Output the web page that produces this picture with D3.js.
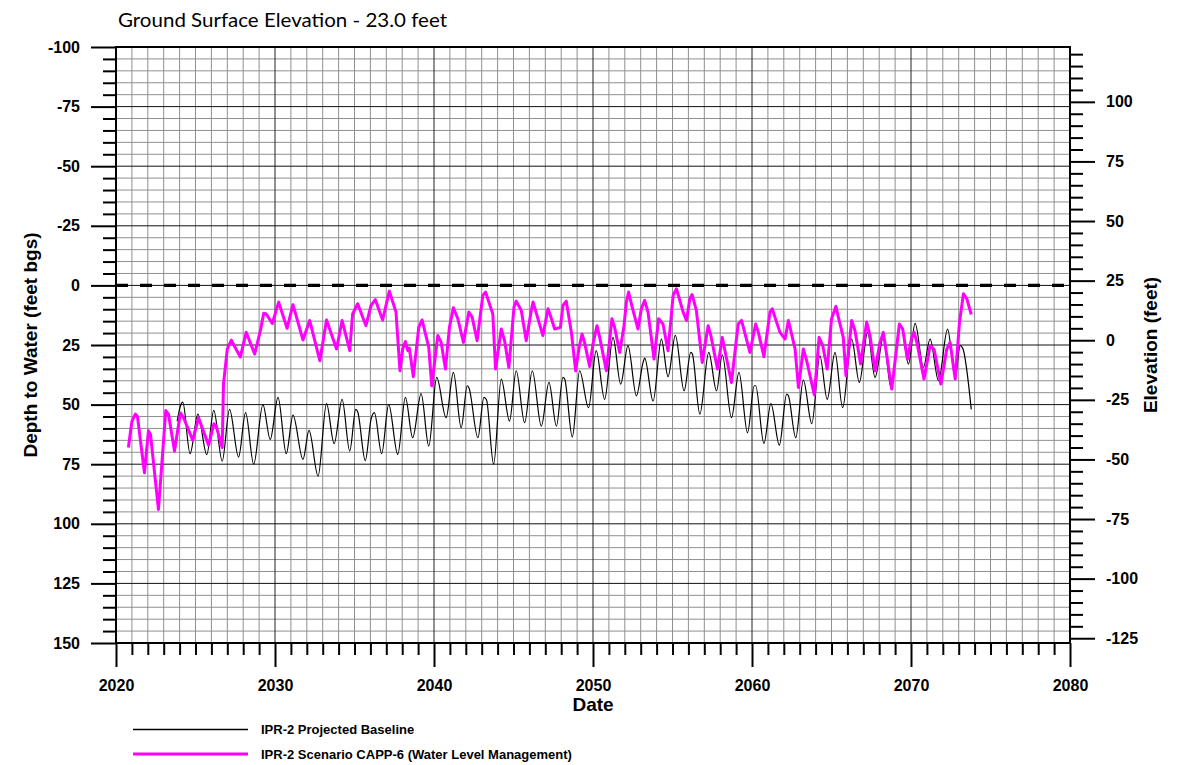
<!DOCTYPE html>
<html>
<head>
<meta charset="utf-8">
<script src="https://cdn.jsdelivr.net/npm/d3@7"></script>
<style>
  html, body { margin: 0; padding: 0; background: #fff; }
  svg { display: block; }
</style>
</head>
<body>
<svg id="chart" width="1181" height="765"></svg>
<script>
// ---------------- DATA ----------------
const titleText = "Ground Surface Elevation - 23.0 feet";
const groundElevation = 23.0;
const xMajorTicks = [2020, 2030, 2040, 2050, 2060, 2070, 2080];
const depthMajorTicks = [-100, -75, -50, -25, 0, 25, 50, 75, 100, 125, 150];
const elevMajorTicks = [100, 75, 50, 25, 0, -25, -50, -75, -100, -125];
const seriesNames = ["IPR-2 Projected Baseline", "IPR-2 Scenario CAPP-6 (Water Level Management)"];

const baselineYears = [
  2023.85, 2024.05, 2024.2, 2024.66, 2025.15, 2025.71, 2026.15, 2026.68, 2027.14, 2027.71,
  2028.15, 2028.66, 2029.24, 2029.7, 2030.19, 2030.71, 2031.13, 2031.76, 2032.14, 2032.71,
  2033.24, 2033.72, 2034.22, 2034.7, 2035.08, 2035.2, 2035.68, 2036.04, 2036.25, 2036.71,
  2037.15, 2037.72, 2038.2, 2038.66, 2039.19, 2039.67, 2040.17, 2040.76, 2041.22, 2041.71,
  2042.09, 2042.2, 2042.76, 2043.14, 2043.3, 2043.75, 2044.23, 2044.75, 2045.17, 2045.7,
  2046.18, 2046.75, 2047.23, 2047.7, 2048.11, 2048.22, 2048.7, 2049.16, 2049.72, 2050.2,
  2050.73, 2051.26, 2051.74, 2052.2, 2052.73, 2053.15, 2053.25, 2053.78, 2054.3, 2054.72,
  2055.18, 2055.73, 2056.15, 2056.25, 2056.72, 2057.28, 2057.77, 2058.13, 2058.71, 2059.18,
  2059.72, 2060.14, 2060.23, 2060.75, 2061.19, 2061.72, 2062.18, 2062.29, 2062.75, 2063.23,
  2063.76, 2064.27, 2064.73, 2065.22, 2065.7, 2066.27, 2066.75, 2067.27, 2067.74, 2068.26,
  2068.74, 2069.31, 2069.45, 2069.84, 2070.26, 2070.78, 2071.2, 2071.73, 2072.3, 2072.78,
  2073.09, 2073.25, 2073.79
];
const baselineDepth = [
  57, 50.6, 49, 70.6, 54, 71, 52.4, 73.7, 52, 72,
  53.4, 75, 50, 64.6, 47, 70.6, 54.4, 73, 60.8, 80,
  49.6, 66.4, 47.8, 69.5, 52, 53, 73.5, 56.2, 53.4, 70.6,
  49.9, 70.9, 47, 63.9, 45.4, 67.4, 38.6, 55.5, 36.5, 59.7,
  42.1, 43, 63.9, 47, 48, 75, 39.3, 56.9, 35.8, 57.6,
  35.8, 59, 40.7, 59, 38.6, 39.3, 63.6, 35.8, 51.3, 27.4,
  47.8, 21.8, 41.4, 25.3, 46.3, 32.3, 30.5, 48.5, 22.5, 38.3,
  21, 44.2, 28.1, 28.8, 54, 28.1, 44.2, 29.1, 55.5, 36.5,
  61.8, 42.1, 42.1, 66.3, 49.6, 67, 45.6, 46.3, 63.9, 39.7,
  58, 29.5, 47.8, 28.1, 51.3, 22.5, 40.7, 19.7, 38.6, 21.8,
  42.8, 16.2, 18.3, 33, 15.9, 34.4, 22.5, 40, 18.3, 38.6,
  25.3, 26.3, 52
];

const scenarioYears = [
  2020.78, 2021.0, 2021.22, 2021.35, 2021.79, 2022.04, 2022.17, 2022.67, 2023.13, 2023.3,
  2023.68, 2024.05, 2024.25, 2024.83, 2025.19, 2025.82, 2026.16, 2026.3, 2026.68, 2026.76,
  2027.0, 2027.25, 2027.82, 2028.19, 2028.72, 2029.08, 2029.29, 2029.45, 2029.83, 2030.23,
  2030.76, 2031.13, 2031.76, 2032.18, 2032.82, 2033.24, 2033.87, 2034.22, 2034.7, 2034.88,
  2035.2, 2035.72, 2036.04, 2036.31, 2036.77, 2037.19, 2037.61, 2037.86, 2038.03, 2038.2,
  2038.35, 2038.45, 2038.7, 2039.04, 2039.25, 2039.67, 2039.86, 2040.24, 2040.45, 2040.72,
  2040.97, 2041.22, 2041.5, 2041.85, 2042.19, 2042.4, 2042.71, 2043.07, 2043.24, 2043.7,
  2043.87, 2044.23, 2044.44, 2044.71, 2045.03, 2045.17, 2045.49, 2045.8, 2046.12, 2046.23,
  2046.85, 2047.17, 2047.32, 2047.59, 2047.95, 2048.11, 2048.32, 2048.64, 2048.91, 2049.12,
  2049.31, 2049.47, 2049.79, 2050.0, 2050.25, 2050.42, 2050.84, 2051.19, 2051.36, 2051.68,
  2051.95, 2052.1, 2052.24, 2052.41, 2052.83, 2053.04, 2053.25, 2053.46, 2053.84, 2054.13,
  2054.4, 2054.72, 2055.04, 2055.25, 2055.67, 2055.88, 2056.09, 2056.23, 2056.5, 2056.87,
  2057.24, 2057.41, 2057.83, 2058.13, 2058.3, 2058.71, 2059.13, 2059.34, 2059.87, 2060.23,
  2060.4, 2060.75, 2061.13, 2061.27, 2061.76, 2062.08, 2062.29, 2062.71, 2062.92, 2063.23,
  2063.44, 2063.92, 2064.22, 2064.45, 2064.73, 2065.0, 2065.28, 2065.43, 2065.74, 2065.91,
  2066.27, 2066.48, 2066.83, 2067.21, 2067.42, 2067.74, 2068.05, 2068.26, 2068.79, 2069.27,
  2069.48, 2069.77, 2070.05, 2070.2, 2070.37, 2070.82, 2071.2, 2071.45, 2071.88, 2072.25,
  2072.46, 2072.78, 2073.05, 2073.3, 2073.51, 2073.79
];
const scenarioDepth = [
  68, 57, 54, 55, 78.6, 61, 62.5, 94, 52.5, 54,
  69.5, 53.5, 55.5, 65, 55.5, 67, 58, 59, 68, 41.4,
  26.7, 23, 30, 19.7, 28.8, 19, 11.7, 12, 16, 7,
  18, 8.1, 22.9, 14.7, 31.6, 14.5, 26.7, 14.7, 27.4, 12,
  7.7, 16.9, 8.4, 6, 14.5, 2.4, 11.2, 35.8, 26.7, 23.5,
  27.4, 26.3, 38.3, 17.6, 14.5, 26, 42.1, 21, 23.9, 35.1,
  17.6, 9.4, 14, 23.9, 11.2, 13.3, 23.2, 4.2, 2.8, 12,
  35.1, 18.3, 23.2, 34.4, 9.1, 6.6, 10.5, 23.2, 10.5, 7,
  21, 9.8, 12.6, 18.3, 17.6, 8.4, 6.6, 19.7, 35.8, 26.3,
  20.4, 24, 34, 24.6, 16.9, 21.8, 35.8, 14, 17.6, 28.1,
  16.9, 7, 2.8, 7.7, 18.3, 9.8, 6.3, 11.2, 30.9, 14,
  16.2, 27.4, 4.2, 1.4, 11.2, 14.7, 5.6, 3.8, 10.5, 32.3,
  16.9, 21, 35.1, 21.8, 27.4, 40.7, 16.2, 14.7, 28.1, 16.2,
  19.7, 29.9, 11.2, 9.8, 19.7, 22.5, 14.7, 26.7, 42.8, 26.7,
  31.6, 45.9, 21.8, 25.3, 35.1, 14, 8.8, 13.3, 21.8, 37.9,
  14.7, 19, 33, 15.4, 21, 35.8, 23.9, 19.7, 43.5, 16.2,
  18.3, 30.9, 21.8, 19.7, 23.9, 39.3, 25.3, 26.7, 41.4, 26.7,
  23.9, 39.3, 15.4, 3.5, 5.6, 12.2
];

// ---------------- LAYOUT ----------------
const svg = d3.select("#chart");
const L = 116, R = 1070, T = 47, B = 643;
const x = d3.scaleLinear().domain([2020, 2080]).range([L, R]);
const y = d3.scaleLinear().domain([-100, 150]).range([T, B]);
const yElev = d3.scaleLinear().domain([groundElevation + 100, groundElevation - 150]).range([T, B]);

const tickFont = "'Liberation Sans', Arial, sans-serif";

// grid
const g = svg.append("g");
const minorYears = d3.range(2021, 2080).filter(v => v % 10 !== 0);
const minorDepths = d3.range(-95, 150, 5).filter(v => v % 25 !== 0);
g.selectAll(".vmin").data(minorYears).join("line")
  .attr("x1", d => x(d)).attr("x2", d => x(d)).attr("y1", T).attr("y2", B)
  .attr("stroke", "#8f8f8f").attr("stroke-width", 1);
g.selectAll(".hmin").data(minorDepths).join("line")
  .attr("x1", L).attr("x2", R).attr("y1", d => y(d)).attr("y2", d => y(d))
  .attr("stroke", "#8f8f8f").attr("stroke-width", 1);
g.selectAll(".vmaj").data(xMajorTicks.slice(1, -1)).join("line")
  .attr("x1", d => x(d)).attr("x2", d => x(d)).attr("y1", T).attr("y2", B)
  .attr("stroke", "#222").attr("stroke-width", 1);
g.selectAll(".hmaj").data(depthMajorTicks.slice(1, -1)).join("line")
  .attr("x1", L).attr("x2", R).attr("y1", d => y(d)).attr("y2", d => y(d))
  .attr("stroke", "#111").attr("stroke-width", 1);

// ground surface dashed line
svg.append("line")
  .attr("x1", L).attr("x2", R).attr("y1", y(0)).attr("y2", y(0))
  .attr("stroke", "#000").attr("stroke-width", 3.2)
  .attr("stroke-dasharray", "12,12");

// series
const baseline = baselineYears.map((yr, i) => [yr, baselineDepth[i]]);
const scenario = scenarioYears.map((yr, i) => [yr, scenarioDepth[i]]);

svg.append("path").datum(baseline)
  .attr("fill", "none").attr("stroke", "#000").attr("stroke-width", 1.2)
  .attr("d", d3.line().x(d => x(d[0])).y(d => y(d[1])).curve(d3.curveMonotoneX));
svg.append("path").datum(scenario)
  .attr("fill", "none").attr("stroke", "#ff00ff").attr("stroke-width", 3)
  .attr("stroke-linejoin", "round")
  .attr("d", d3.line().x(d => x(d[0])).y(d => y(d[1])));

// frame
svg.append("rect").attr("x", L).attr("y", T).attr("width", R - L).attr("height", B - T)
  .attr("fill", "none").attr("stroke", "#000").attr("stroke-width", 2);

// axes
function styleAxis(sel, size) {
  sel.select(".domain").remove();
  sel.selectAll(".tick line").attr("stroke", "#000").attr("stroke-width", 2);
  sel.selectAll("text").attr("font-family", tickFont).attr("font-weight", "bold")
    .attr("font-size", size).attr("fill", "#000");
}
const fmt = d => String(d);

// left
svg.append("g").attr("transform", `translate(${L},0)`)
  .call(d3.axisLeft(y).tickValues(minorDepths).tickSize(13).tickFormat(""))
  .call(s => styleAxis(s, 16));
svg.append("g").attr("transform", `translate(${L},0)`)
  .call(d3.axisLeft(y).tickValues(depthMajorTicks).tickSize(25).tickPadding(11).tickFormat(fmt))
  .call(s => styleAxis(s, 16));

// right
const elevMinor = d3.range(120, -130, -5).filter(v => v % 25 !== 0);
svg.append("g").attr("transform", `translate(${R},0)`)
  .call(d3.axisRight(yElev).tickValues(elevMinor).tickSize(13).tickFormat(""))
  .call(s => styleAxis(s, 16));
svg.append("g").attr("transform", `translate(${R},0)`)
  .call(d3.axisRight(yElev).tickValues(elevMajorTicks).tickSize(25).tickPadding(11).tickFormat(fmt))
  .call(s => styleAxis(s, 16));

// bottom
svg.append("g").attr("transform", `translate(0,${B})`)
  .call(d3.axisBottom(x).tickValues(minorYears).tickSize(12).tickFormat(""))
  .call(s => styleAxis(s, 16));
svg.append("g").attr("transform", `translate(0,${B})`)
  .call(d3.axisBottom(x).tickValues(xMajorTicks).tickSize(24).tickPadding(13).tickFormat(fmt))
  .call(s => styleAxis(s, 16));

// titles
svg.append("text").attr("x", 118).attr("y", 26.5)
  .attr("font-family", "Lato, 'Open Sans', sans-serif").attr("font-size", 20)
  .attr("textLength", 329).attr("lengthAdjust", "spacingAndGlyphs")
  .text(titleText);

svg.append("text")
  .attr("transform", `translate(37,${(T + B) / 2}) rotate(-90)`)
  .attr("text-anchor", "middle")
  .attr("font-family", tickFont).attr("font-weight", "bold").attr("font-size", 19)
  .text("Depth to Water (feet bgs)");

svg.append("text")
  .attr("transform", `translate(1157,${(T + B) / 2}) rotate(-90)`)
  .attr("text-anchor", "middle")
  .attr("font-family", tickFont).attr("font-weight", "bold").attr("font-size", 19)
  .text("Elevation (feet)");

svg.append("text").attr("x", (L + R) / 2).attr("y", 711)
  .attr("text-anchor", "middle")
  .attr("font-family", tickFont).attr("font-weight", "bold").attr("font-size", 19)
  .text("Date");

// legend
const legendColors = ["#000", "#ff00ff"];
const legendWidths = [1.5, 3];
const legendY = [729.5, 754];
seriesNames.forEach((name, i) => {
  svg.append("line").attr("x1", 133).attr("x2", 248)
    .attr("y1", legendY[i]).attr("y2", legendY[i])
    .attr("stroke", legendColors[i]).attr("stroke-width", legendWidths[i]);
  svg.append("text").attr("x", 261).attr("y", legendY[i] + 4.5)
    .attr("font-family", tickFont).attr("font-weight", "bold").attr("font-size", 13)
    .text(name);
});
</script>
</body>
</html>
